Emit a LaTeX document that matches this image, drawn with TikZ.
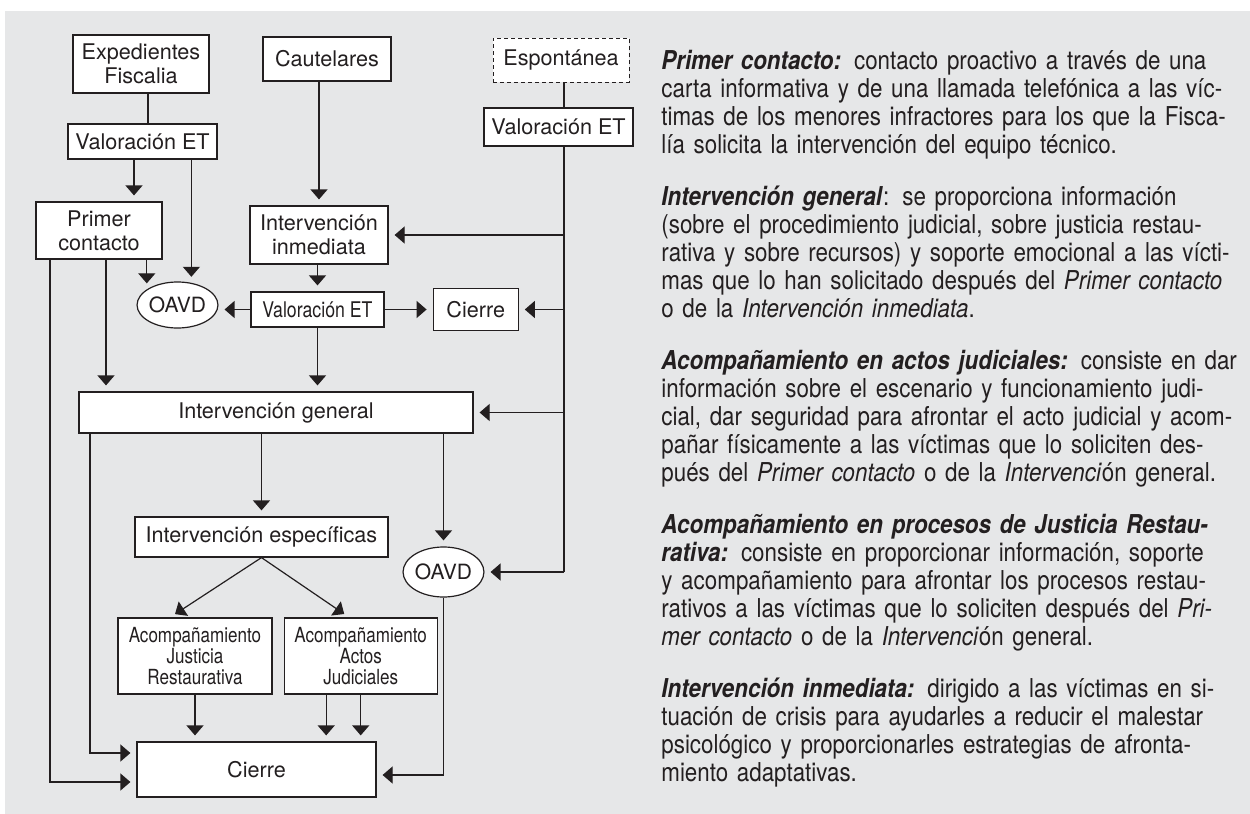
\documentclass[tikz,border=0pt]{standalone}
\usepackage{fontspec}
\setmainfont{TeX Gyre Heros}
\newfontfamily\condfont{TeX Gyre Heros}[FakeStretch=0.86]
\newfontfamily\narrowfont{TeX Gyre Heros}[FakeStretch=0.82]
\usetikzlibrary{arrows.meta,positioning,shapes.geometric}
\definecolor{ink}{RGB}{35,31,32}
\definecolor{panel}{RGB}{230,231,232}
\newcommand{\bi}[1]{\textbf{\textit{#1}}}
\newcommand{\jl}[1]{\noindent\makebox[\linewidth][s]{#1}\par}
\newcommand{\lastl}[1]{\noindent\makebox[\linewidth][l]{#1}\par}
\newcommand{\parafont}{\condfont\fontsize{13pt}{14pt}\selectfont}

\begin{document}
\begin{tikzpicture}
  [
   x=0.5pt,y=-0.5pt,
   node distance=5.5pt,
   box/.style={rectangle,draw=ink,fill=white,line width=0.6pt,inner sep=0pt,align=center,text=ink,font=\fontsize{10.8pt}{12pt}\selectfont},
   slimbox/.style={box,font=\narrowfont\fontsize{10.4pt}{10.5pt}\selectfont},
   dashbox/.style={box,dash pattern=on 2pt off 1.5pt,line width=0.5pt},
   oval/.style={ellipse,draw=ink,fill=white,line width=0.6pt,inner sep=0pt,text=ink,font=\fontsize{10.5pt}{12pt}\selectfont},
   ln/.style={draw=ink,line width=0.6pt},
   arr/.style={ln,-{Triangle[length=5pt,width=8.5pt]},shorten >=3pt}
  ]
   \useasboundingbox (0,0) rectangle (1250,814);
   \fill[panel] (5,11) rectangle (1250,814);

   \node[box,minimum width=68pt,minimum height=29pt] (exp) at (141,64) {Expedientes\\Fiscalia};
   \node[box,minimum width=64pt,minimum height=22pt] (caut) at (327,59) {Cautelares};
   \node[dashbox,minimum width=68pt,minimum height=22pt] (esp) at (561,60) {Espontánea};
   \node[box,minimum width=74.5pt,minimum height=17.5pt] (valA) at (142.5,141.5) {Valoración ET};
   \node[box,minimum width=74.5pt,minimum height=19pt] (valB) at (558.5,127) {Valoración ET};
   \node[box,minimum width=63pt,minimum height=28.5pt] (prim) at (99,230.5) {Primer\\contacto};
   \node[box,minimum width=69pt,minimum height=29pt] (inm) at (319,235) {Intervención\\inmediata};
   \node[oval,minimum width=39.5pt,minimum height=23pt] (oavdA) at (177.5,305) {OAVD};
   \node[slimbox,font=\narrowfont\fontsize{10.8pt}{12pt}\selectfont,minimum width=66.5pt,minimum height=17.5pt] (valC) at (317.5,309.5) {Valoración ET};
   \node[box,minimum width=42.5pt,minimum height=21pt,right=24pt of valC] (cieA) {Cierre};
   \node[box,minimum width=197pt,minimum height=20.5pt] (gen) at (276,412.5) {Intervención general};
   \node[box,minimum width=126.5pt,minimum height=20pt] (esp2) at (261.5,537) {Intervención específicas};
   \node[oval,minimum width=39.5pt,minimum height=25pt] (oavdB) at (443.5,572) {OAVD};
   \node[slimbox,minimum width=77pt,minimum height=38pt] (ajr) at (195,656) {Acompañamiento\\Justicia\\Restaurativa};
   \node[slimbox,minimum width=76.5pt,minimum height=38pt,right=of ajr] (aaj) {Acompañamiento\\Actos\\Judiciales};
   \node[box,minimum width=119.5pt,minimum height=27.5pt] (cieB) at (256.5,769.5) {Cierre};

   \coordinate (sp) at (564,572);
   \coordinate (lo) at (50,782);
   \coordinate (li) at (90,753);

   \draw[ln] ([xshift=3.5pt]exp.south) -- ([xshift=3.5pt]exp.south |- valA.north);
   \draw[arr] ([xshift=-4.25pt]valA.south) -- ([xshift=-4.25pt]valA.south |- prim.north);
   \draw[arr] (valA.south -| oavdA.58) -- (oavdA.58);
   \draw[arr] (prim.south -| oavdA.153) -- (oavdA.153);
   \draw[arr] ([xshift=3.5pt]prim.south) -- ([xshift=3.5pt]prim.south |- gen.north);
   \draw[arr] (prim.south -| lo) |- (cieB.west |- lo);
   \draw[arr] (caut.south -| inm.north) -- (inm.north);
   \draw[ln] (esp.south -| sp) -- (valB.north -| sp);
   \draw[ln] (valB.south -| sp) -- (sp);
   \draw[arr] (inm.east -| sp) -- (inm.east);
   \draw[arr] (cieA.east -| sp) -- (cieA.east);
   \draw[arr] (gen.east -| sp) -- (gen.east);
   \draw[arr] (sp) -- (oavdB.east);
   \draw[arr] (inm.south -| valC.north) -- (valC.north);
   \draw[arr] (valC.west) -- (valC.west -| oavdA.east);
   \draw[arr] (valC.east) -- (cieA.west);
   \draw[arr] (valC.south) -- (valC.south |- gen.north);
   \draw[arr] (gen.south -| li) |- (cieB.west |- li);
   \draw[arr] (gen.south -| esp2.north) -- (esp2.north);
   \draw[arr] (gen.south -| oavdB.north) -- (oavdB.north);
   \draw[arr] (esp2.south) -- ([xshift=-12.5pt]ajr.north);
   \draw[arr] (esp2.south) -- ([xshift=-5.75pt]aaj.north);
   \draw[arr] (ajr.south) -- (ajr.south |- cieB.north);
   \draw[arr] ([xshift=-17.25pt]aaj.south) -- ([xshift=-17.25pt]aaj.south |- cieB.north);
   \draw[arr] (aaj.south) -- (aaj.south |- cieB.north);
   \draw[arr] (oavdB.south) |- ([yshift=-2.75pt]cieB.east);

   \node[anchor=north west,inner sep=0pt,text width=289pt,text=ink,font=\parafont] (notes) at (661,50) {%
     \jl{\bi{Primer contacto:} contacto proactivo a través de una}
     \jl{carta informativa y de una llamada telefónica a las víc-}
     \jl{timas de los menores infractores para los que la Fisca-}
     \lastl{lía solicita la intervención del equipo técnico.}
     \vspace{12pt}
     \jl{\bi{Intervención general}: se proporciona información}
     \jl{(sobre el procedimiento judicial, sobre justicia restau-}
     \jl{rativa y sobre recursos) y soporte emocional a las vícti-}
     \jl{mas que lo han solicitado después del \textit{Primer contacto}}
     \lastl{o de la \textit{Intervención inmediata}.}
     \vspace{12pt}
     \jl{\bi{Acompañamiento en actos judiciales:} consiste en dar}
     \jl{información sobre el escenario y funcionamiento judi-}
     \jl{cial, dar seguridad para afrontar el acto judicial y acom-}
     \jl{pañar físicamente a las víctimas que lo soliciten des-}
     \lastl{pués del \textit{Primer contacto} o de la \textit{Intervenci}ón general.}
     \vspace{12pt}
     \jl{\bi{Acompañamiento en procesos de Justicia Restau-}}
     \jl{\bi{rativa:} consiste en proporcionar información, soporte}
     \jl{y acompañamiento para afrontar los procesos restau-}
     \jl{rativos a las víctimas que lo soliciten después del \textit{Pri-}}
     \lastl{\textit{mer contacto} o de la \textit{Intervenci}ón general.}
     \vspace{12pt}
     \jl{\bi{Intervención inmediata:} dirigido a las víctimas en si-}
     \jl{tuación de crisis para ayudarles a reducir el malestar}
     \jl{psicológico y proporcionarles estrategias de afronta-}
     \lastl{miento adaptativas.}%
   };

\end{tikzpicture}
\end{document}
